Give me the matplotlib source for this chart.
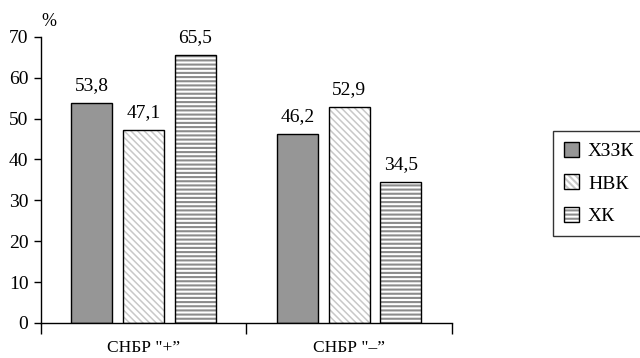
import matplotlib
matplotlib.use("Agg")
import matplotlib.pyplot as plt
from matplotlib.patches import Patch
from matplotlib.legend_handler import HandlerTuple
import numpy as np

categories = ['СНБР "+”', 'СНБР "–”']
series_names = ["ХЗЗК", "НВК", "ХК"]
values_hzzk = [53.8, 46.2]
values_nvk = [47.1, 52.9]
values_hk = [65.5, 34.5]
value_labels_hzzk = ["53,8", "46,2"]
value_labels_nvk = ["47,1", "52,9"]
value_labels_hk = ["65,5", "34,5"]
yticks = [0, 10, 20, 30, 40, 50, 60, 70]

plt.rcParams['font.family'] = ['Liberation Serif', 'DejaVu Serif']
plt.rcParams['hatch.linewidth'] = 1.5

fig = plt.figure(figsize=(6.4, 3.58), dpi=100)
ax = fig.add_axes([0.064, 0.098, 0.642, 0.799])

x = np.arange(len(categories))
w = 0.2
off = 0.252

styles = [
    dict(face="#969696", hatch=None, hcol=None, hlw=1.0),
    dict(face="white", hatch="\\\\\\\\\\", hcol="#c8c8c8", hlw=1.1),
    dict(face="white", hatch="----", hcol="#8c8c8c", hlw=1.5),
]
series = [values_hzzk, values_nvk, values_hk]
labels = [value_labels_hzzk, value_labels_nvk, value_labels_hk]


def set_hlw(p, lw):
    if hasattr(p, "set_hatch_linewidth"):
        p.set_hatch_linewidth(lw)


for i, (vals, st, labs) in enumerate(zip(series, styles, labels)):
    pos = x + (i - 1) * off
    if st["hatch"]:
        bars_h = ax.bar(pos, vals, w, color=st["face"], edgecolor=st["hcol"],
                        hatch=st["hatch"], linewidth=0, zorder=2)
        for b in bars_h:
            set_hlw(b, st["hlw"])
    else:
        ax.bar(pos, vals, w, color=st["face"], linewidth=0, zorder=2)
    ax.bar(pos, vals, w, fill=False, edgecolor="black", linewidth=1.0, zorder=3)
    for p, v, t in zip(pos, vals, labs):
        ax.text(p, v + 2.2, t, ha="center", va="bottom", fontsize=14)

ax.set_xlim(-0.5, 1.5)
ax.set_ylim(0, 70)
ax.set_yticks(yticks)
ax.tick_params(axis="y", labelsize=14, length=5, width=1, direction="out", pad=4)
ax.set_xticks([-0.5, 0.5, 1.5])
ax.set_xticklabels([])
ax.tick_params(axis="x", length=8, width=1, direction="out")
for xi, c in zip(x, categories):
    ax.text(xi, -4.3, c, ha="center", va="top", fontsize=12.5,
            transform=ax.transData)
for s in ["top", "right"]:
    ax.spines[s].set_visible(False)
ax.spines["left"].set_linewidth(1)
ax.spines["bottom"].set_linewidth(1)

ax.text(0.0, 1.025, "%", transform=ax.transAxes, fontsize=13, ha="left", va="bottom")

handles = []
for name, st in zip(series_names, styles):
    if st["hatch"]:
        h1 = Patch(facecolor=st["face"], edgecolor=st["hcol"], hatch=st["hatch"], linewidth=0)
        set_hlw(h1, st["hlw"])
        h2 = Patch(fill=False, edgecolor="black", linewidth=1)
        handles.append((h1, h2))
    else:
        handles.append(Patch(facecolor=st["face"], edgecolor="black", linewidth=1))

leg = fig.legend(handles, series_names, loc="upper left",
                 bbox_to_anchor=(553/640, 1 - 131/358), frameon=True,
                 fancybox=False, edgecolor="black", fontsize=14,
                 handlelength=0.8, handleheight=0.8, handletextpad=0.45,
                 labelspacing=0.75, borderpad=0.55, borderaxespad=0,
                 handler_map={tuple: HandlerTuple(ndivide=1, pad=0)})
leg.get_frame().set_linewidth(1)

fig.savefig("out.png", dpi=100)
